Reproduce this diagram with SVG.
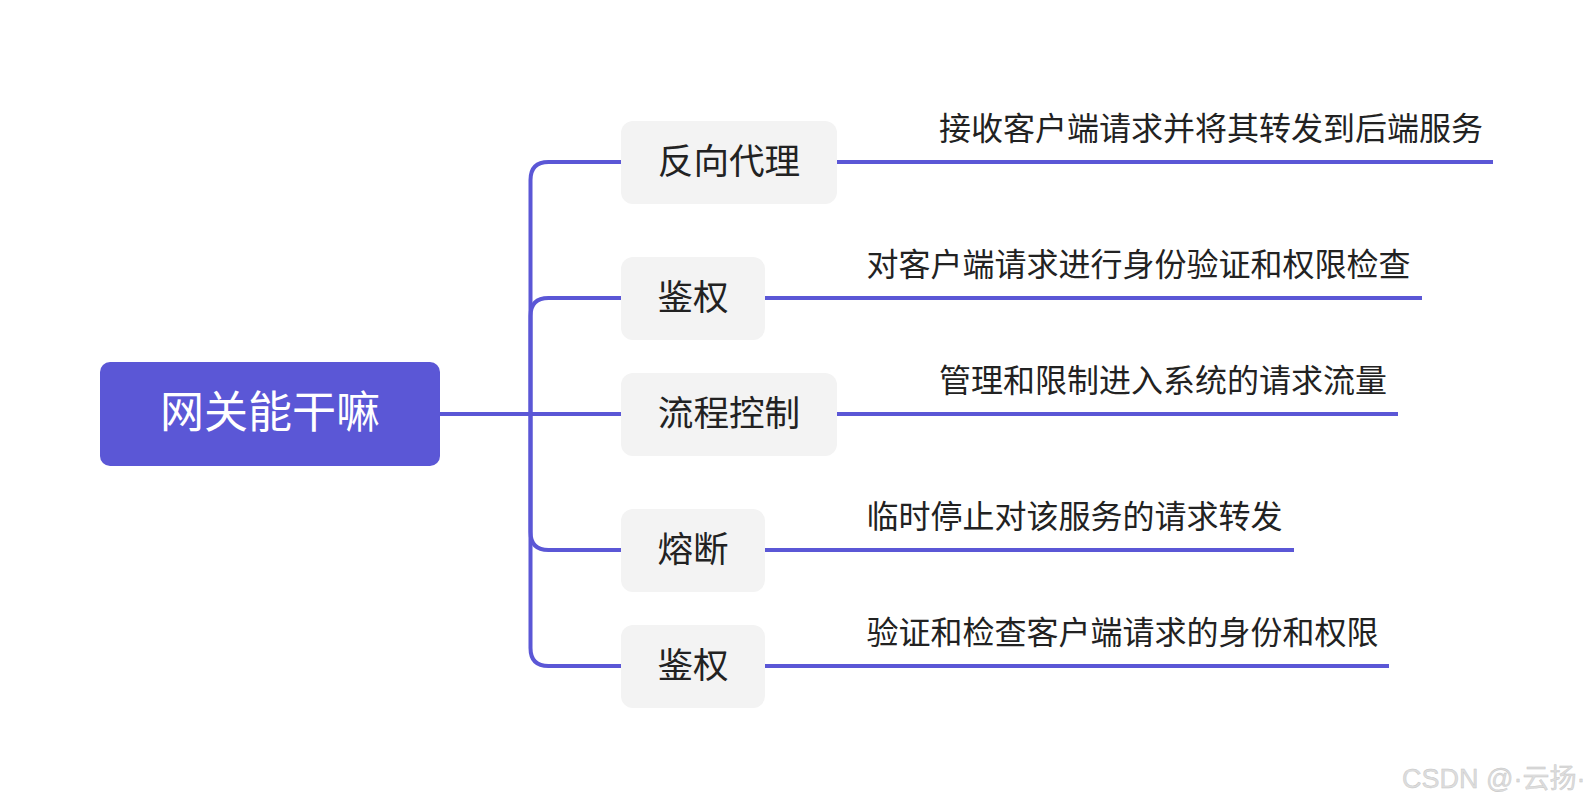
<svg xmlns="http://www.w3.org/2000/svg" width="1592" height="808" viewBox="0 0 1592 808">
<style>
.conn{fill:none;stroke:#5B57D6;stroke-width:4}
.node{fill:#F3F3F3}
.nt{font-family:"Noto Sans CJK SC","Microsoft YaHei",sans-serif;font-size:35.6px;fill:#222;text-anchor:middle;dominant-baseline:central}
.lt{font-family:"Noto Sans CJK SC","Microsoft YaHei",sans-serif;font-size:32px;fill:#222}
</style>
<rect width="1592" height="808" fill="#fff"/>
<g id="connectors">
<path class="conn" d="M440 414 H530.5 V180 Q530.5 162 548.5 162 H621"/>
<path class="conn" d="M440 414 H530.5 V316 Q530.5 298 548.5 298 H621"/>
<path class="conn" d="M440 414 H621"/>
<path class="conn" d="M440 414 H530.5 V532 Q530.5 550 548.5 550 H621"/>
<path class="conn" d="M440 414 H530.5 V648 Q530.5 666 548.5 666 H621"/>
<path class="conn" d="M837 162 H1493"/>
<path class="conn" d="M765 298 H1422"/>
<path class="conn" d="M837 414 H1398"/>
<path class="conn" d="M765 550 H1294"/>
<path class="conn" d="M765 666 H1389"/>
</g>
<g id="root">
<rect x="100" y="362" width="340" height="104" rx="10" fill="#5B57D6"/>
<text x="270" y="409" class="nt" style="font-size:44px;fill:#fff">网关能干嘛</text>
</g>
<g id="n1">
<rect class="node" x="621" y="121" width="216" height="83" rx="12"/>
<text class="nt" x="729" y="158">反向代理</text>
<text class="lt" x="939" y="139.5">接收客户端请求并将其转发到后端服务</text>
</g>
<g id="n2">
<rect class="node" x="621" y="257" width="144" height="83" rx="12"/>
<text class="nt" x="693" y="294">鉴权</text>
<text class="lt" x="866.5" y="275.5">对客户端请求进行身份验证和权限检查</text>
</g>
<g id="n3">
<rect class="node" x="621" y="373" width="216" height="83" rx="12"/>
<text class="nt" x="729" y="410">流程控制</text>
<text class="lt" x="939" y="391.5">管理和限制进入系统的请求流量</text>
</g>
<g id="n4">
<rect class="node" x="621" y="509" width="144" height="83" rx="12"/>
<text class="nt" x="693" y="546">熔断</text>
<text class="lt" x="866.5" y="527.5">临时停止对该服务的请求转发</text>
</g>
<g id="n5">
<rect class="node" x="621" y="625" width="144" height="83" rx="12"/>
<text class="nt" x="693" y="662">鉴权</text>
<text class="lt" x="866.5" y="643.5">验证和检查客户端请求的身份和权限</text>
</g>
<text x="1402" y="788" font-family="'Liberation Sans','Noto Sans CJK SC',sans-serif" font-size="27" fill="#ddd" stroke="#c4c4c4" stroke-width="0.4">CSDN <tspan x="1486">@·云扬·</tspan></text>
</svg>
